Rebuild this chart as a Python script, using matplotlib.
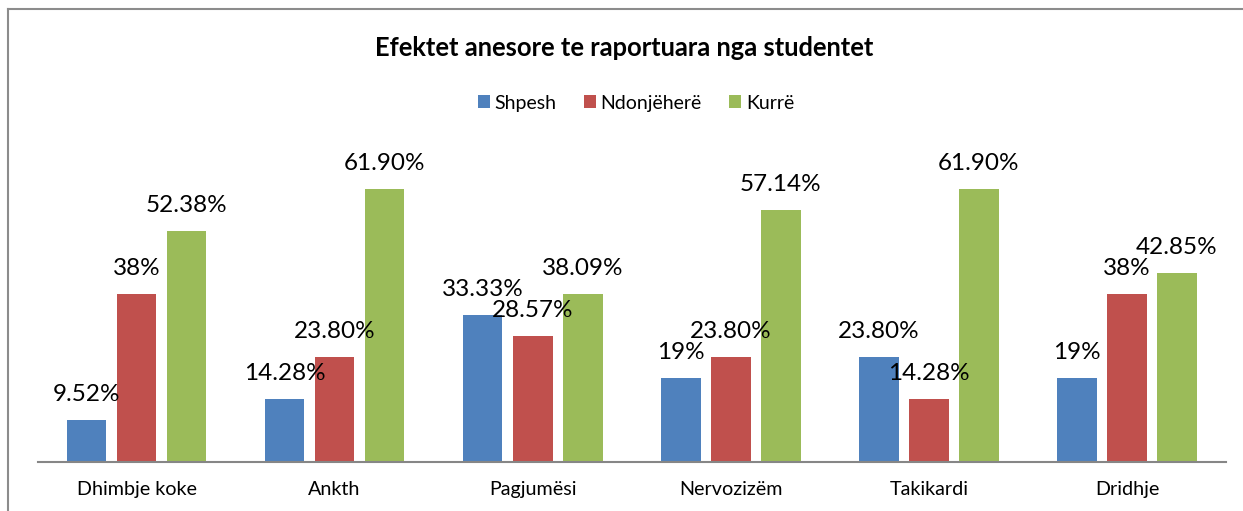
import matplotlib.pyplot as plt
import numpy as np
from matplotlib.lines import Line2D

plt.rcParams['font.family'] = ['Lato', 'DejaVu Sans']

categories = ["Dhimbje koke", "Ankth", "Pagjumësi", "Nervozizëm", "Takikardi", "Dridhje"]
series_names = ["Shpesh", "Ndonjëherë", "Kurrë"]
shpesh = [9.52, 14.28, 33.33, 19, 23.80, 19]
ndonjehere = [38, 23.80, 28.57, 23.80, 14.28, 38]
kurre = [52.38, 61.90, 38.09, 57.14, 61.90, 42.85]
label_text = [
    ["9.52%", "14.28%", "33.33%", "19%", "23.80%", "19%"],
    ["38%", "23.80%", "28.57%", "23.80%", "14.28%", "38%"],
    ["52.38%", "61.90%", "38.09%", "57.14%", "61.90%", "42.85%"],
]
colors = ["#4F81BD", "#C0504D", "#9BBB59"]

W, H = 1243, 511
fig = plt.figure(figsize=(W / 100, H / 100), dpi=100)
ax = fig.add_axes([37.5 / W, (H - 462) / H, (1226 - 37.5) / W, 309 / H])

x = np.arange(len(categories))
width = 0.2
step = 50 / 198
bars = []
for i, (vals, col) in enumerate(zip([shpesh, ndonjehere, kurre], colors)):
    b = ax.bar(x + (i - 1) * step, vals, width, color=col, label=series_names[i], zorder=2)
    bars.append(b)
    for rect, txt in zip(b, label_text[i]):
        ax.annotate(txt, (rect.get_x() + rect.get_width() / 2, rect.get_height()),
                    xytext=(0, 13.7), textcoords="offset points",
                    ha="center", va="baseline", fontsize=17.5, color="black")

ax.set_xlim(-0.5, len(categories) - 0.5)
ax.set_ylim(0, 70)
ax.set_yticks([])
ax.set_xticks(x)
ax.set_xticklabels(categories, fontsize=14.2)
ax.tick_params(axis="x", length=0, pad=13.5)
for s in ["top", "right", "left"]:
    ax.spines[s].set_visible(False)
ax.spines["bottom"].set_color("#868686")
ax.spines["bottom"].set_linewidth(1.5)

fig.text(624 / W, 1 - 48.5 / H, "Efektet anesore te raportuara nga studentet",
         ha="center", va="center", fontsize=18.4, fontweight="bold")

fig.legend(handles=bars, labels=series_names, loc="center",
           bbox_to_anchor=(636 / W, 1 - 103 / H), ncol=3, frameon=False,
           fontsize=14, handlelength=0.62, handleheight=0.62,
           handletextpad=0.25, columnspacing=1.4)

# chart border (only left and top visible in the crop)
fig.add_artist(Line2D([8 / W, 8 / W], [0, 1 - 9 / H], transform=fig.transFigure,
                      color="#8c8c8c", lw=1.5))
fig.add_artist(Line2D([8 / W, 1], [1 - 9 / H, 1 - 9 / H], transform=fig.transFigure,
                      color="#8c8c8c", lw=1.5))

fig.savefig("out.png", dpi=100)
